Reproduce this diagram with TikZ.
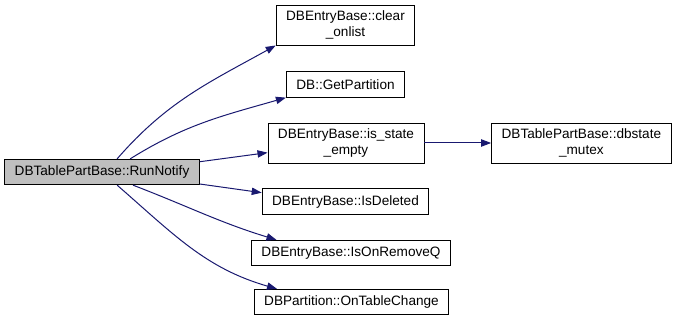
\documentclass[tikz,border=0pt]{standalone}
\usepackage{fontspec}
\setmainfont{Liberation Sans}
\usepackage{xcolor}
\usetikzlibrary{arrows.meta,positioning}

\definecolor{callblue}{RGB}{25,25,112}

\begin{document}
\begin{tikzpicture}[
  x=0.75pt, y=0.75pt,
  func/.style={rectangle, draw, line width=0.7pt, align=center, inner xsep=7.5pt, inner ysep=0pt, minimum height=19pt, font=\fontsize{10.2}{11.5}\selectfont},
  tall/.style={func, minimum height=30pt},
  root/.style={func, fill=black!25},
  call/.style={-{Triangle[length=7.5pt,width=5.5pt]}, draw=callblue, line width=0.75pt}
]
\useasboundingbox (0,0) rectangle (676,322);

\node[root] (run) at (102,150) {DBTablePartBase::RunNotify};

\node[tall] (clear) at (345.5,297) {DBEntryBase::clear\\\_onlist};
\node[func] (part) at (345.5,237.5) {DB::GetPartition};
\node[tall] (empty) at (346,179) {DBEntryBase::is\_state\\\_empty};
\node[tall, right=50pt of empty] (mutex) {DBTablePartBase::dbstate\\\_mutex};
\node[func] (deleted) at (345.5,120.5) {DBEntryBase::IsDeleted};
\node[func] (removeq) at (351,69) {DBEntryBase::IsOnRemoveQ};
\node[func] (change) at (351.5,20) {DBPartition::OnTableChange};

% calls made by RunNotify
\draw[call] (run.41) to[out=49, in=209] (clear.south west);
\draw[call] (run.25) to[out=32, in=196] (part.south west);
\draw[call] (run.6) -- (empty.187);
\draw[call] (run.353) -- (deleted.174);
\draw[call] (run.337) to[out=-21, in=163] (removeq.170);
\draw[call] (run.319) to[out=-41, in=164] (change.170);

\draw[call] (empty) -- (mutex);
\end{tikzpicture}
\end{document}
